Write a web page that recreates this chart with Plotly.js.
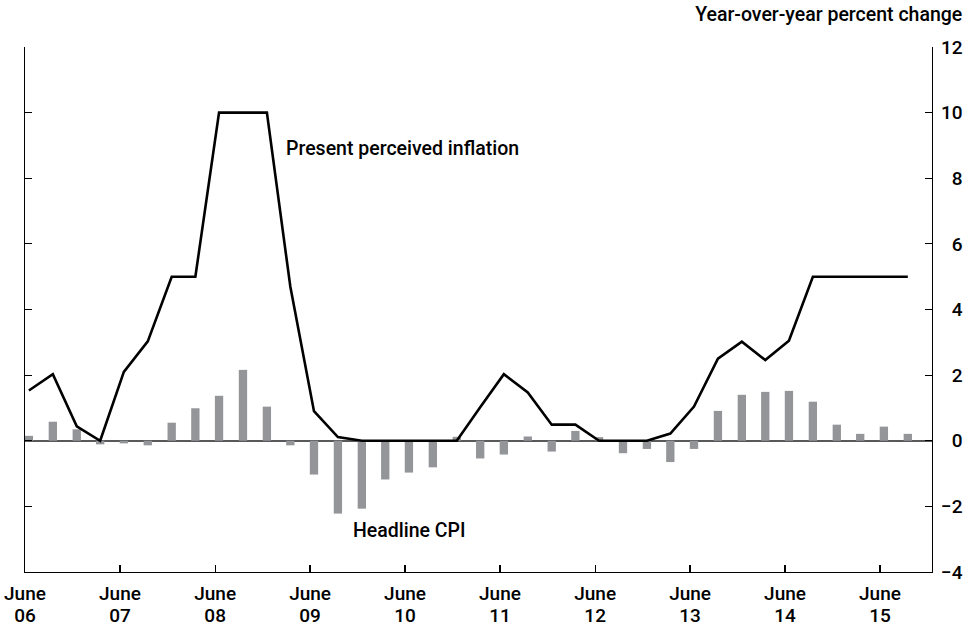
<!DOCTYPE html>
<html>
<head>
<meta charset="utf-8">
<script src="https://cdn.plot.ly/plotly-3.0.1.min.js"></script>
<style>
  html, body { margin: 0; padding: 0; background: #fff; }
  #chart { width: 974px; height: 626px; }
</style>
</head>
<body>
<div id="chart"></div>
<script>
// Quarterly observations (end of quarter)
const quarters = [
  '2006-06-30','2006-09-30','2006-12-31',
  '2007-03-31','2007-06-30','2007-09-30','2007-12-31',
  '2008-03-31','2008-06-30','2008-09-30','2008-12-31',
  '2009-03-31','2009-06-30','2009-09-30','2009-12-31',
  '2010-03-31','2010-06-30','2010-09-30','2010-12-31',
  '2011-03-31','2011-06-30','2011-09-30','2011-12-31',
  '2012-03-31','2012-06-30','2012-09-30','2012-12-31',
  '2013-03-31','2013-06-30','2013-09-30','2013-12-31',
  '2014-03-31','2014-06-30','2014-09-30','2014-12-31',
  '2015-03-31','2015-06-30','2015-09-30'
];

// Present perceived inflation (line)
const perceivedInflation = [
  1.53, 2.03, 0.44,
  0, 2.1, 3.03, 5,
  5, 10, 10, 10,
  4.7, 0.9, 0.11, 0,
  0, 0, 0, 0,
  1.02, 2.03, 1.47, 0.49,
  0.49, 0, 0, 0,
  0.22, 1.04, 2.5, 3.02,
  2.46, 3.05, 5, 5,
  5, 5, 5
];

// Headline CPI (bars)
const headlineCPI = [
  0.15, 0.58, 0.35,
  -0.11, -0.08, -0.14, 0.55,
  0.99, 1.37, 2.16, 1.04,
  -0.14, -1.03, -2.22, -2.07,
  -1.18, -0.97, -0.81, 0.12,
  -0.54, -0.42, 0.13, -0.33,
  0.3, 0.11, -0.38, -0.25,
  -0.65, -0.25, 0.91, 1.4,
  1.49, 1.52, 1.19, 0.49,
  0.21, 0.43, 0.21
];

// X tick marks (June of each year)
const tickDates = ['2006-06-15','2007-06-15','2008-06-15','2009-06-15','2010-06-15',
                   '2011-06-15','2012-06-15','2013-06-15','2014-06-15','2015-06-15'];
const tickMonth = ['June','June','June','June','June','June','June','June','June','June'];
const tickYear  = ['06','07','08','09','10','11','12','13','14','15'];

// Y ticks
const yTickVals = [-4, -2, 0, 2, 4, 6, 8, 10, 12];
const yTickText = ['\u22124', '\u22122', '\u20070', '\u20072', '\u20074', '\u20076', '\u20078', '10', '12'];

const FONT = 'Roboto, "Liberation Sans", sans-serif';
const xRange = ['2006-06-15', '2016-01-01'];
const DAY = 86400000;

const traces = [
  {
    type: 'bar',
    x: quarters,
    y: headlineCPI,
    width: quarters.map(() => 32 * DAY),
    marker: { color: '#939598', line: { width: 0 } },
    hoverinfo: 'skip'
  },
  {
    type: 'scatter',
    mode: 'lines',
    x: quarters,
    y: perceivedInflation,
    line: { color: '#000000', width: 2.6 },
    hoverinfo: 'skip'
  },
  {
    type: 'scatter',
    mode: 'none',
    x: quarters,
    y: perceivedInflation,
    xaxis: 'x2',
    hoverinfo: 'skip',
    showlegend: false
  }
];

const tickFont = { family: FONT, size: 19, color: '#000000', weight: 500 };
const textFont = { family: FONT, size: 19.5, color: '#000000', weight: 500 };

const layout = {
  width: 974,
  height: 626,
  margin: { l: 25, r: 42, t: 47, b: 54 },
  paper_bgcolor: '#ffffff',
  plot_bgcolor: '#ffffff',
  showlegend: false,
  font: { family: FONT, size: 19, color: '#000000', weight: 500 },
  title: {
    text: 'Year-over-year percent change',
    xref: 'container', yref: 'container',
    x: 0.988, xanchor: 'right',
    y: 0.977, yanchor: 'middle',
    font: textFont
  },
  xaxis: {
    type: 'date',
    range: xRange,
    tickmode: 'array',
    tickvals: tickDates,
    ticktext: tickMonth,
    ticks: 'inside',
    ticklen: 7,
    tickwidth: 1.2,
    tickcolor: '#000000',
    showline: true,
    linecolor: '#000000',
    linewidth: 1.2,
    showgrid: false,
    zeroline: false,
    ticklabelstandoff: 4,
    tickfont: tickFont,
    fixedrange: true
  },
  xaxis2: {
    type: 'date',
    overlaying: 'x',
    side: 'bottom',
    anchor: 'y',
    range: xRange,
    tickmode: 'array',
    tickvals: tickDates,
    ticktext: tickYear,
    ticks: '',
    showline: false,
    showgrid: false,
    zeroline: false,
    ticklabelstandoff: 30,
    tickfont: tickFont,
    fixedrange: true
  },
  yaxis: {
    side: 'right',
    range: [-4, 12],
    tickmode: 'array',
    tickvals: yTickVals,
    ticktext: yTickText,
    ticks: 'inside',
    ticklen: 7,
    tickwidth: 1.2,
    tickcolor: '#000000',
    mirror: 'ticks',
    showline: true,
    linecolor: '#000000',
    linewidth: 1.2,
    showgrid: false,
    zeroline: true,
    zerolinecolor: '#58595b',
    zerolinewidth: 1.6,
    ticklabelstandoff: 4,
    tickfont: tickFont,
    fixedrange: true
  },
  annotations: [
    {
      text: 'Present perceived inflation',
      xref: 'x', yref: 'y',
      x: '2009-03-06', y: 8.9,
      xanchor: 'left', yanchor: 'middle',
      showarrow: false,
      font: textFont
    },
    {
      text: 'Headline CPI',
      xref: 'x', yref: 'y',
      x: '2009-11-19', y: -2.73,
      xanchor: 'left', yanchor: 'middle',
      showarrow: false,
      font: textFont
    }
  ]
};

Plotly.newPlot('chart', traces, layout, { staticPlot: true, displayModeBar: false });
</script>
</body>
</html>
